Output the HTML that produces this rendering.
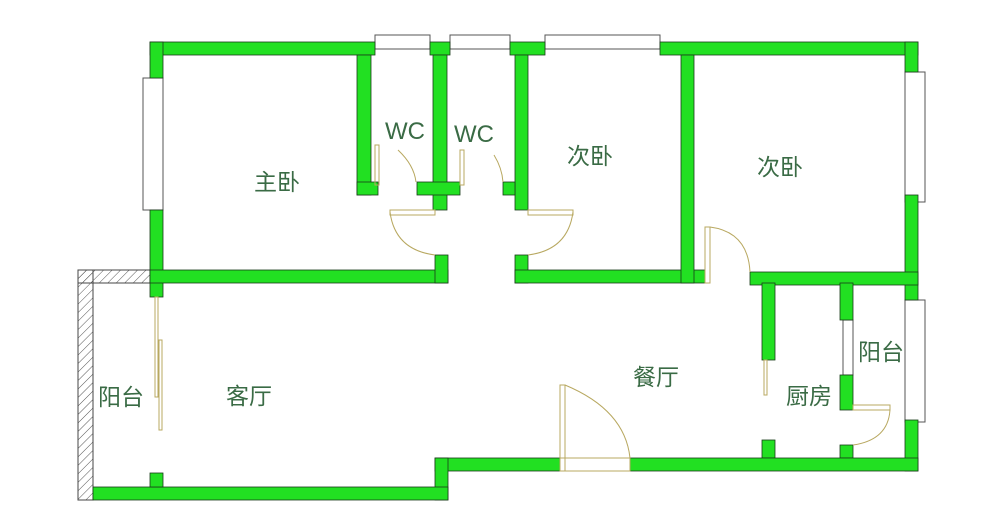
<!DOCTYPE html>
<html><head><meta charset="utf-8"><style>
html,body{margin:0;padding:0;background:#fff;width:1000px;height:525px;overflow:hidden}
text{font-family:"Liberation Sans","Noto Sans CJK SC",sans-serif;fill:#3a6b45;font-size:23px}
</style></head><body>
<svg width="1000" height="525" viewBox="0 0 1000 525" xmlns="http://www.w3.org/2000/svg">
<defs><pattern id="h" width="6" height="6" patternUnits="userSpaceOnUse" patternTransform="rotate(45)"><line x1="0" y1="0" x2="0" y2="6" stroke="#555" stroke-width="1"/></pattern></defs>
<g fill="none" stroke="#555" stroke-width="1">
<rect x="375" y="35" width="55" height="14"/><rect x="450" y="35" width="60" height="14"/><rect x="545" y="35" width="115" height="14"/>
<rect x="143" y="78" width="20" height="132"/><rect x="905" y="72" width="20" height="130"/><rect x="905" y="300" width="20" height="122"/>
<rect x="843" y="320" width="10" height="55"/>
</g>
<!-- hatched balcony wall -->
<rect x="78" y="270" width="15" height="230" fill="url(#h)" stroke="#444"/>
<rect x="78" y="270" width="72" height="13" fill="url(#h)" stroke="#444"/>
<g fill="#22e022" stroke="#1a3a1a" stroke-width="0.8">
<rect x="150" y="42" width="225" height="13"/><rect x="430" y="42" width="20" height="13"/><rect x="510" y="42" width="35" height="13"/><rect x="660" y="42" width="258" height="13"/>
<rect x="150" y="42" width="13" height="36"/><rect x="150" y="210" width="13" height="87"/>
<rect x="150" y="270" width="298" height="13"/><rect x="435" y="255" width="13" height="28"/>
<rect x="357" y="55" width="14" height="140"/><rect x="357" y="182" width="21" height="13"/>
<rect x="433" y="55" width="14" height="155"/><rect x="417" y="182" width="43" height="13"/>
<rect x="515" y="55" width="13" height="155"/><rect x="503" y="182" width="12" height="13"/>
<rect x="515" y="255" width="13" height="28"/><rect x="515" y="270" width="190" height="13"/>
<rect x="681" y="55" width="13" height="228"/>
<rect x="905" y="42" width="13" height="30"/><rect x="905" y="195" width="13" height="105"/>
<rect x="750" y="272" width="168" height="13"/>
<rect x="762" y="283" width="13" height="77"/><rect x="840" y="283" width="13" height="37"/><rect x="840" y="375" width="13" height="35"/>
<rect x="762" y="440" width="13" height="18"/><rect x="840" y="445" width="13" height="13"/>
<rect x="905" y="420" width="13" height="51"/>
<rect x="435" y="458" width="125" height="13"/><rect x="630" y="458" width="288" height="13"/>
<rect x="435" y="458" width="13" height="42"/><rect x="93" y="487" width="355" height="13"/><rect x="150" y="473" width="13" height="14"/>
</g>
<g fill="none" stroke="#b8a860" stroke-width="1">
<rect x="375" y="145" width="4" height="40"/><rect x="460" y="150" width="4" height="35"/>
<path d="M398 150 Q414 165 416 182"/><path d="M494 155 Q502 168 503 182"/>
<rect x="390" y="210" width="45" height="5"/><path d="M390 212 Q395 250 435 255"/>
<rect x="528" y="210" width="45" height="5"/><path d="M573 212 Q568 250 528 255"/>
<rect x="705" y="227" width="5" height="56"/><path d="M710 227 Q748 232 750 272"/>
<rect x="155" y="297" width="3" height="100"/><rect x="159" y="340" width="3" height="90"/>
<rect x="764" y="360" width="3" height="35"/>
<rect x="560" y="385" width="5" height="86"/><path d="M565 385 Q625 410 630 458"/>
<rect x="560" y="458" width="70" height="13"/>
<rect x="853" y="405" width="37" height="5"/><path d="M890 410 Q888 440 853 445"/>
</g>
<text x="254" y="190">主卧</text>
<text x="385" y="139" style="font-size:24px">WC</text>
<text x="454" y="142" style="font-size:24px">WC</text>
<text x="567" y="164">次卧</text>
<text x="757" y="175">次卧</text>
<text x="98" y="405">阳台</text>
<text x="226" y="404">客厅</text>
<text x="633" y="385">餐厅</text>
<text x="786" y="404">厨房</text>
<text x="858" y="360">阳台</text>
</svg>
</body></html>
